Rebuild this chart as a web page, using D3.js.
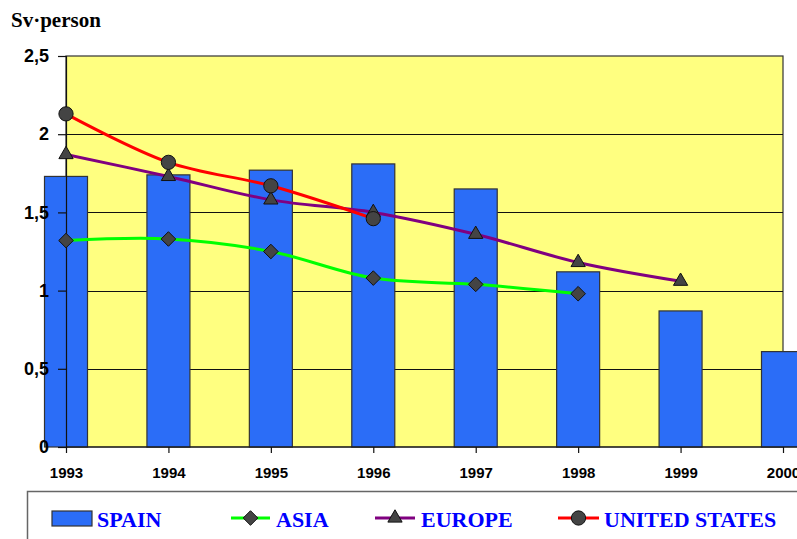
<!DOCTYPE html>
<html>
<head>
<meta charset="utf-8">
<script src="https://cdn.jsdelivr.net/npm/d3@7"></script>
<style>
  body { margin: 0; background: #fff; }
  svg { display: block; }
</style>
</head>
<body>
<svg id="chart" width="797" height="539"></svg>
<script>
"use strict";

// chart data
const years   = ["1993", "1994", "1995", "1996", "1997", "1998", "1999", "2000"];
const spain   = [1.73, 1.74, 1.77, 1.81, 1.65, 1.12, 0.87, 0.61];
const asia    = [1.32, 1.33, 1.25, 1.08, 1.04, 0.98];
const europe  = [1.87, 1.73, 1.58, 1.50, 1.36, 1.18, 1.06];
const usa     = [2.13, 1.82, 1.67, 1.46];
const yTicks  = [0, 0.5, 1, 1.5, 2, 2.5];

let svg = d3.select("#chart");

let plot = {left: 66, right: 783, top: 56, bottom: 447};

let x = d3.scalePoint().domain(years).range([plot.left, plot.right]);
let y = d3.scaleLinear().domain([0, 2.5]).range([plot.bottom, plot.top]);
let barW = 43;

// plot background
svg.append("rect")
  .attr("x", plot.left).attr("y", plot.top)
  .attr("width", plot.right - plot.left).attr("height", plot.bottom - plot.top)
  .attr("fill", "#ffff80")
  .attr("stroke", "#333").attr("stroke-width", 1.2);

// horizontal grid lines
svg.append("g")
  .selectAll("line")
  .data(yTicks.filter(d => d > 0 && d < 2.5))
  .enter().append("line")
    .attr("x1", plot.left).attr("x2", plot.right)
    .attr("y1", d => Math.round(y(d)) + 0.5).attr("y2", d => Math.round(y(d)) + 0.5)
    .attr("stroke", "#111").attr("stroke-width", 1);

// SPAIN bars
svg.append("g")
  .selectAll("rect")
  .data(spain)
  .enter().append("rect")
    .attr("x", (d, i) => x(years[i]) - barW / 2)
    .attr("y", d => y(d))
    .attr("width", barW)
    .attr("height", d => y(0) - y(d))
    .attr("fill", "#2b6df7")
    .attr("stroke", "#333").attr("stroke-width", 1.2);

// axes
let yAxis = svg.append("g")
  .attr("transform", `translate(${plot.left},0)`)
  .call(d3.axisLeft(y).tickValues(yTicks).tickSize(8).tickPadding(9)
    .tickFormat(d => String(d).replace(".", ",")));
yAxis.selectAll("text")
  .style("font-family", "'Liberation Sans', Arial, sans-serif")
  .style("font-size", "18px").style("font-weight", "bold").attr("fill", "#000");
yAxis.selectAll("line, path").attr("stroke", "#111").attr("stroke-width", 1.2);

let xAxis = svg.append("g")
  .attr("transform", `translate(0,${plot.bottom})`)
  .call(d3.axisBottom(x).tickSize(6).tickPadding(14));
xAxis.select(".domain").remove();
xAxis.append("line").attr("x1", plot.left).attr("x2", 797)
  .attr("stroke", "#111").attr("stroke-width", 1.2);
xAxis.selectAll("text")
  .style("font-family", "'Liberation Sans', Arial, sans-serif")
  .style("font-size", "15px").style("font-weight", "bold").attr("fill", "#000");
xAxis.selectAll("line").attr("stroke", "#111").attr("stroke-width", 1.2);

// y axis title
svg.append("text")
  .attr("x", 11).attr("y", 27)
  .style("font-family", "'Liberation Serif', 'Times New Roman', serif")
  .style("font-size", "21px").style("font-weight", "bold")
  .text("Sv\u00b7person");

// line series
let series = [
  {name: "ASIA", values: asia, color: "#00ff00", shape: "diamond"},
  {name: "EUROPE", values: europe, color: "#800080", shape: "triangle"},
  {name: "UNITED STATES", values: usa, color: "#ff0000", shape: "circle"}
];

function marker(shape) {
  if (shape === "diamond") return "M0,-7.3L7.3,0L0,7.3L-7.3,0Z";
  if (shape === "triangle") return d3.symbol().type(d3.symbolTriangle).size(88)();
  return d3.symbol().type(d3.symbolCircle).size(160)();
}

let line = d3.line()
  .x((d, i) => x(years[i]))
  .y(d => y(d))
  .curve(d3.curveCatmullRom.alpha(0.5));

series.forEach(s => {
  svg.append("path")
    .datum(s.values)
    .attr("d", line)
    .attr("fill", "none")
    .attr("stroke", s.color)
    .attr("stroke-width", 3);
});

series.forEach(s => {
  svg.append("g")
    .selectAll("path")
    .data(s.values)
    .enter().append("path")
      .attr("d", marker(s.shape))
      .attr("transform", (d, i) => `translate(${x(years[i])},${y(d)})`)
      .attr("fill", "#444")
      .attr("stroke", "#111").attr("stroke-width", 1);
});

// legend
let legend = svg.append("g");
legend.append("path")
  .attr("d", "M27.5,539V491.5H797")
  .attr("fill", "none").attr("stroke", "#666").attr("stroke-width", 1.5);

let legendY = 518;
let legendItems = [
  {name: "SPAIN", kind: "bar", x0: 52, x1: 92, tx: 97},
  {name: "ASIA", kind: "diamond", color: "#00ff00", x0: 231, x1: 270, tx: 276},
  {name: "EUROPE", kind: "triangle", color: "#800080", x0: 375, x1: 415, tx: 421},
  {name: "UNITED STATES", kind: "circle", color: "#ff0000", x0: 558, x1: 599, tx: 604}
];

legendItems.forEach(item => {
  if (item.kind === "bar") {
    legend.append("rect")
      .attr("x", item.x0).attr("y", legendY - 7)
      .attr("width", item.x1 - item.x0).attr("height", 15)
      .attr("fill", "#2b6df7").attr("stroke", "#333").attr("stroke-width", 1.2);
  } else {
    legend.append("line")
      .attr("x1", item.x0).attr("x2", item.x1)
      .attr("y1", legendY).attr("y2", legendY)
      .attr("stroke", item.color).attr("stroke-width", 3);
    legend.append("path")
      .attr("d", marker(item.kind))
      .attr("transform", `translate(${(item.x0 + item.x1) / 2},${legendY})`)
      .attr("fill", "#444").attr("stroke", "#111").attr("stroke-width", 1);
  }
  legend.append("text")
    .attr("x", item.tx).attr("y", 527)
    .attr("fill", "#0000ff")
    .style("font-family", "'Liberation Serif', 'Times New Roman', serif")
    .style("font-size", "22px").style("font-weight", "bold")
    .text(item.name);
});
</script>
</body>
</html>
